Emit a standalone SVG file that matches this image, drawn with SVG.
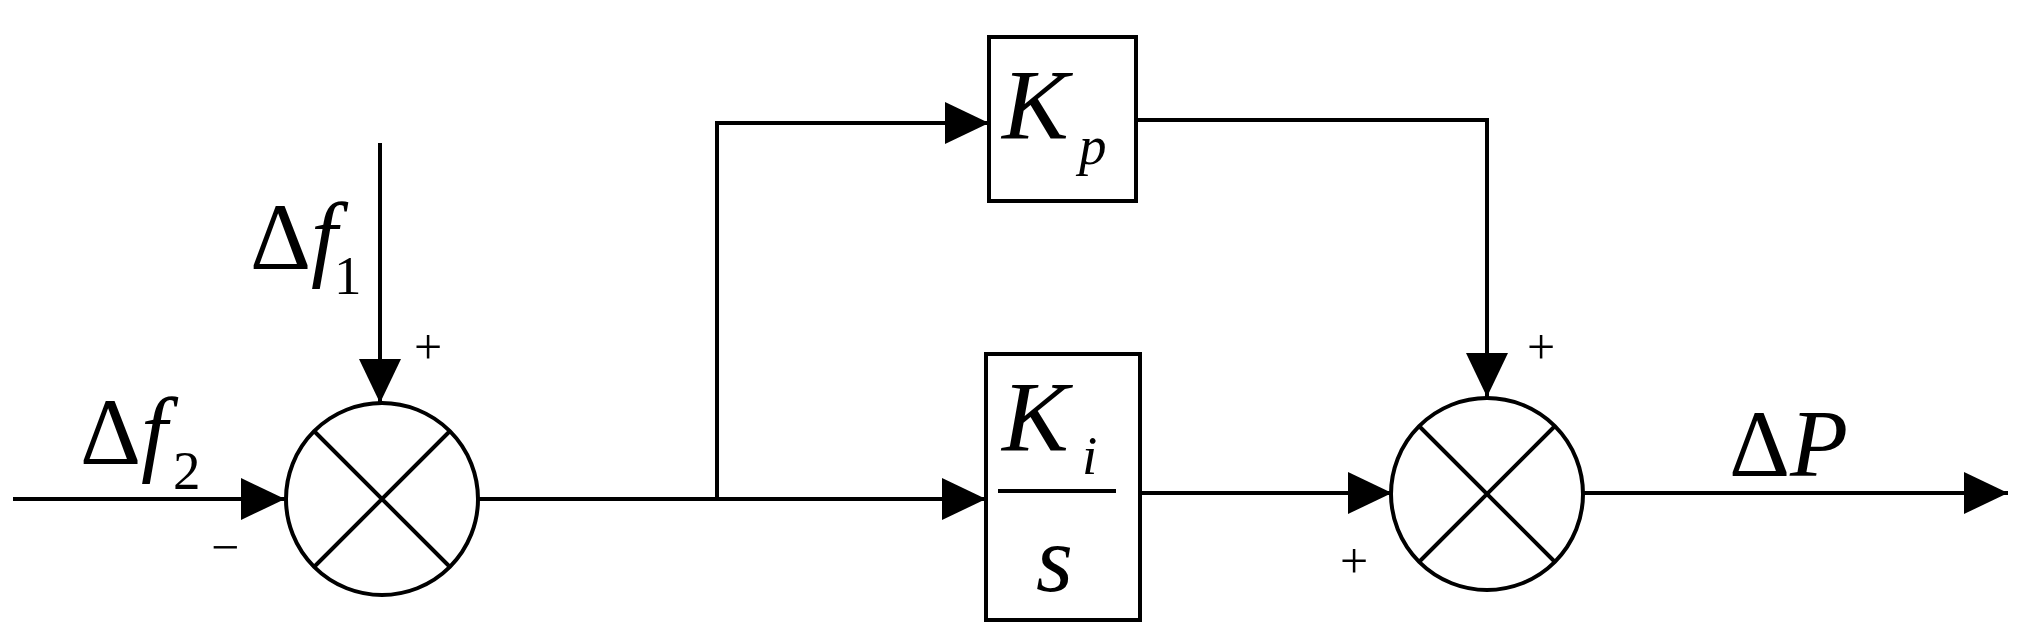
<svg xmlns="http://www.w3.org/2000/svg" width="2019" height="644" viewBox="0 0 2019 644">
<style>
.ln{fill:none;stroke:#000;stroke-width:4}
.nd{fill:#fff;stroke:#000;stroke-width:4}
.t{font-family:"Liberation Serif",serif;fill:#000}
.i{font-style:italic}
</style>
<defs>
<marker id="ah" markerUnits="userSpaceOnUse" markerWidth="44" markerHeight="42" refX="44" refY="21" orient="auto">
<path d="M0,0 L44,21 L0,42 Z" fill="#000"/>
</marker>
</defs>
<rect width="2019" height="644" fill="#fff"/>
<g id="connectors">
<path class="ln" d="M13,499 H285" marker-end="url(#ah)"/>
<path class="ln" d="M380,143 V403" marker-end="url(#ah)"/>
<path class="ln" d="M478,499 H986" marker-end="url(#ah)"/>
<path class="ln" d="M717,499 V123 H989" marker-end="url(#ah)"/>
<path class="ln" d="M1136,120 H1487 V397" marker-end="url(#ah)"/>
<path class="ln" d="M1140,493 H1392" marker-end="url(#ah)"/>
<path class="ln" d="M1582,493 H2008" marker-end="url(#ah)"/>
</g>
<g id="sum1">
<circle class="nd" cx="382" cy="499" r="96"/>
<path class="ln" d="M314,431 L450,567 M450,431 L314,567"/>
</g>
<g id="sum2">
<circle class="nd" cx="1487" cy="494" r="96"/>
<path class="ln" d="M1419,426 L1555,562 M1555,426 L1419,562"/>
</g>
<g id="kp">
<rect class="nd" x="989" y="37" width="147" height="164"/>
<text class="t i" x="1002" y="138" font-size="100">K</text>
<text class="t i" x="1079" y="164" font-size="55">p</text>
</g>
<g id="ki">
<rect class="nd" x="986" y="354" width="154" height="266"/>
<text class="t i" x="1002" y="450" font-size="100">K</text>
<text class="t i" x="1082" y="474" font-size="55">i</text>
<path class="ln" d="M998,491 H1116"/>
<text class="t i" x="1036" y="591" font-size="95">s</text>
</g>
<g id="labels">
<text class="t" x="250" y="269" font-size="95">Δ<tspan class="i">f</tspan></text>
<text class="t" x="334" y="294" font-size="55">1</text>
<text class="t" x="80" y="464" font-size="95">Δ<tspan class="i">f</tspan></text>
<text class="t" x="173" y="489" font-size="55">2</text>
<text class="t" x="428" y="364" font-size="50" text-anchor="middle">+</text>
<text class="t" x="225" y="564" font-size="50" text-anchor="middle">−</text>
<text class="t" x="1541" y="364" font-size="50" text-anchor="middle">+</text>
<text class="t" x="1354" y="578" font-size="50" text-anchor="middle">+</text>
<text class="t" x="1729" y="476" font-size="95">Δ<tspan class="i">P</tspan></text>
</g>
</svg>
